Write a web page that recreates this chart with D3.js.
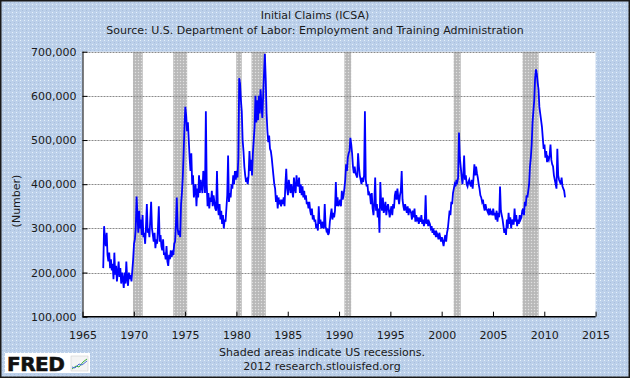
<!DOCTYPE html>
<html><head><meta charset="utf-8">
<script src="https://cdn.jsdelivr.net/npm/d3@7"></script>
<style>body{margin:0;background:#fff}svg{display:block}</style>
</head><body><svg id="c" width="630" height="378"></svg>
<script>
const titleText = "Initial Claims (ICSA)";
const subtitleText = "Source: U.S. Department of Labor: Employment and Training Administration";
const yLabelText = "(Number)";
const note1 = "Shaded areas indicate US recessions.";
const note2 = "2012 research.stlouisfed.org";
const xTicks = [1965,1970,1975,1980,1985,1990,1995,2000,2005,2010,2015];
const yTicks = [100000,200000,300000,400000,500000,600000,700000];
const recessions = [[1969.92,1970.87],[1973.84,1975.2],[1979.98,1980.52],[1981.47,1982.86],[1990.52,1991.18],[2001.17,2001.86],[2007.88,2009.45]];
const startYear = 1967;
// monthly initial claims, thousands
const claims = [
210,305,275,260,290,240,225,245,210,230,205,220,
185,245,195,215,180,200,225,190,210,175,200,185,
165,200,175,225,185,170,200,185,195,180,205,230,
265,275,300,372,330,290,340,300,320,285,330,280,
290,265,305,355,290,300,280,320,360,300,285,270,
290,255,275,265,300,350,270,285,260,250,275,240,
245,230,260,225,215,240,230,250,235,245,240,265,
270,310,370,300,285,295,280,355,380,415,470,530,
575,555,520,540,500,460,430,470,400,420,370,390,
400,350,390,370,420,380,410,395,380,430,410,380,
565,400,350,380,345,370,360,385,350,375,360,345,
340,430,350,330,355,320,340,310,330,300,320,315,
345,375,465,360,380,370,400,390,420,400,430,410,
430,415,460,640,628,590,565,500,475,440,420,405,
410,400,420,475,430,455,420,470,500,530,600,540,
590,545,600,560,615,580,550,600,650,695,640,560,
520,495,510,480,475,460,440,420,400,390,360,375,
345,370,355,360,350,365,355,370,350,400,435,390,
375,410,395,380,400,385,370,415,390,380,420,400,
395,415,380,400,375,395,370,385,365,375,355,360,
345,360,340,330,345,320,330,315,320,300,310,295,
350,310,320,300,315,305,300,355,305,295,300,285,
290,315,330,345,320,335,325,340,405,350,370,350,
355,365,350,385,365,375,390,410,445,430,460,470,
475,505,490,470,440,425,440,425,420,415,470,440,
420,410,400,415,405,420,565,410,395,400,375,380,
375,355,380,345,330,360,415,340,355,325,345,290,
405,355,340,370,335,345,360,330,345,355,340,325,
340,350,330,355,345,375,385,365,390,370,355,375,
385,430,365,350,340,355,345,335,350,330,345,340,
335,320,340,325,345,315,330,320,325,310,320,315,
330,310,320,305,315,375,310,320,305,315,310,300,
305,290,300,285,295,280,290,285,275,290,280,270,
280,270,260,275,285,270,290,300,320,340,330,360,
355,380,390,400,395,410,405,415,517,460,440,420,
400,420,465,410,420,400,395,405,410,400,395,410,
390,415,445,420,440,425,415,400,390,375,370,360,
365,350,340,355,345,340,335,345,330,340,335,330,
345,330,335,320,340,315,335,325,395,340,330,320,
305,290,300,285,320,300,335,310,325,300,320,310,
310,345,315,330,305,320,310,330,320,325,340,345,
330,360,350,375,370,385,400,440,460,490,540,565,
590,640,660,650,630,615,575,560,545,530,505,480,
490,460,475,450,460,455,465,490,455,445,440,420,
410,400,390,480,420,410,405,400,415,395,390,385,
370
];

const W = 630, H = 378;
const m = {l:82.5, r:595.6, t:51.7, b:316.7};
const svg = d3.select("#c");
const defs = svg.append("defs");
const bgp = defs.append("pattern").attr("id","bgp").attr("width",4).attr("height",4).attr("patternUnits","userSpaceOnUse");
bgp.append("rect").attr("width",4).attr("height",4).attr("fill","#bcd0ea");
bgp.append("rect").attr("x",0).attr("y",0).attr("width",1).attr("height",1).attr("fill","#e6f2fb");
bgp.append("rect").attr("x",2).attr("y",2).attr("width",1).attr("height",1).attr("fill","#a9bfdc");
const rp = defs.append("pattern").attr("id","rp").attr("width",3).attr("height",3).attr("patternUnits","userSpaceOnUse");
rp.append("rect").attr("width",3).attr("height",3).attr("fill","#bdbdbd");
rp.append("rect").attr("x",0).attr("y",0).attr("width",1).attr("height",1).attr("fill","#e0e0e0");
rp.append("rect").attr("x",1.5).attr("y",1.5).attr("width",1).attr("height",1).attr("fill","#a8a8a8");

svg.append("rect").attr("x",0.75).attr("y",0.75).attr("width",W-1.5).attr("height",H-1.5)
  .attr("fill","url(#bgp)").attr("stroke","#1a1a1a").attr("stroke-width",1.5);

const x = d3.scaleLinear().domain([1965,2015]).range([m.l,m.r]);
const y = d3.scaleLinear().domain([100000,700000]).range([m.b,m.t]);

svg.append("rect").attr("x",m.l).attr("y",m.t).attr("width",m.r-m.l).attr("height",m.b-m.t).attr("fill","#fff");

// recessions
svg.append("g").selectAll("rect").data(recessions).join("rect")
  .attr("x",d=>x(d[0])).attr("width",d=>x(d[1])-x(d[0]))
  .attr("y",m.t).attr("height",m.b-m.t).attr("fill","url(#rp)");

// grid
svg.append("g").selectAll("line").data(yTicks.filter(v=>v>100000)).join("line")
  .attr("x1",m.l).attr("x2",m.r).attr("y1",d=>Math.round(y(d))+0.5).attr("y2",d=>Math.round(y(d))+0.5)
  .attr("stroke","#8a8a8a").attr("stroke-dasharray","2,1").attr("stroke-width",1);

// line
const font = "DejaVu Sans, Verdana, sans-serif";
const pts = claims.map((v,i)=>({t:startYear + i/12 + 1/48, v:v*1000}));
svg.append("path").datum(pts)
  .attr("d", d3.line().x(d=>x(d.t)).y(d=>y(d.v)))
  .attr("fill","none").attr("stroke","#0000ff").attr("stroke-width",1.8).attr("stroke-linejoin","miter");

// axes
const ya = d3.axisRight(y).tickValues(yTicks).tickSize(5).tickFormat(d3.format(","));
const gy = svg.append("g").attr("transform",`translate(${m.l},0)`).call(ya);
gy.select(".domain").attr("stroke","#000").attr("d",`M0.5,${m.t}V${m.b}`);
gy.selectAll(".tick line").attr("stroke","#000");
gy.selectAll(".tick text").attr("x",-6).attr("text-anchor","end").attr("font-family",font).attr("font-size",11).attr("fill","#1a1a1a");

const xa = d3.axisTop(x).tickValues(xTicks).tickSize(5).tickFormat(d3.format("d"));
const gx = svg.append("g").attr("transform",`translate(0,${m.b})`).call(xa);
gx.select(".domain").attr("stroke","#000").attr("stroke-width",1.5).attr("d",`M${m.l},0H${m.r}`);
gx.selectAll(".tick line").attr("stroke","#000");
gx.selectAll(".tick text").attr("y",18).attr("dy","0.35em").attr("font-family",font).attr("font-size",11).attr("fill","#1a1a1a");

// titles
svg.append("text").attr("x",315).attr("y",19).attr("text-anchor","middle").attr("font-family",font).attr("font-size",11).attr("fill","#1a1a1a").text(titleText);
svg.append("text").attr("x",315).attr("y",34).attr("text-anchor","middle").attr("font-family",font).attr("font-size",11).attr("fill","#1a1a1a").text(subtitleText);
svg.append("text").attr("transform","translate(20,201) rotate(-90)").attr("text-anchor","middle").attr("font-family",font).attr("font-size",11).attr("fill","#1a1a1a").text(yLabelText);
svg.append("text").attr("x",322).attr("y",356).attr("text-anchor","middle").attr("font-family",font).attr("font-size",11).attr("fill","#1a1a1a").text(note1);
svg.append("text").attr("x",322).attr("y",370).attr("text-anchor","middle").attr("font-family",font).attr("font-size",11).attr("fill","#1a1a1a").text(note2);

// FRED logo
const logo = svg.append("g");
logo.append("rect").attr("x",5).attr("y",353).attr("width",85).attr("height",20).attr("fill","#fff");
logo.append("text").attr("x",7).attr("y",371).attr("font-family","DejaVu Sans, sans-serif").attr("font-weight","bold").attr("font-size",20).attr("letter-spacing",-0.5).attr("fill","#111").attr("stroke","#111").attr("stroke-width",0.6).text("FRED");
logo.append("rect").attr("x",71).attr("y",356).attr("width",17).attr("height",15).attr("fill","#f4f4f4").attr("stroke","#c8c8c8").attr("stroke-width",0.5);
logo.append("path").attr("d","M72,369 L76,366 L79,367 L83,362 L87,359").attr("fill","none").attr("stroke","#3cae3c").attr("stroke-width",1);
logo.append("path").attr("d","M72,367 L75,368 L79,364 L82,365 L87,361").attr("fill","none").attr("stroke","#4a6fd8").attr("stroke-width",1);
</script></body></html>
